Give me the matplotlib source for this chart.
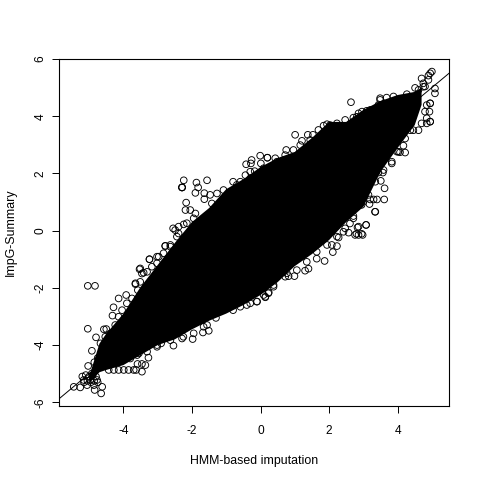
import numpy as np
import matplotlib
matplotlib.use("Agg")
import matplotlib.pyplot as plt

plt.rcParams["font.family"] = ["Liberation Sans", "DejaVu Sans"]
plt.rcParams["axes.unicode_minus"] = False

band_x = [-5.0, -4.7, -4.5, -4.0, -3.5, -3.0, -2.5, -2.0, -1.5, -1.0, -0.5, 0.0, 0.5, 1.0,
          1.5, 2.0, 2.5, 3.0, 3.5, 4.0, 4.5, 4.7]
band_upper = [-5.1, -3.95, -3.6, -2.9, -1.97, -1.2, -0.43, 0.3, 0.79, 1.45, 1.8, 2.22, 2.54, 2.75,
              3.24, 3.8, 3.8, 4.22, 4.53, 4.74, 4.85, 5.0]
band_lower = [-5.33, -4.95, -4.87, -4.7, -4.35, -4.0, -3.8, -3.45, -3.15, -2.9, -2.6, -2.25, -1.8, -1.24,
              -0.82, -0.33, 0.3, 0.83, 2.05, 2.89, 3.69, 4.4]

# points that stand clear of the core
out_x = [-5.04, -4.83, -5.04, -3.24, -3.02, -3.53, -3.65, -3.92, -4.14, -4.29, -4.32, -4.5, -4.8, -4.92, -5.03,
         -5.45, -5.26, -4.65, -4.84, -4.62, -5.16, -4.97, -4.77, -5.06, -4.86, -4.92, -4.77,
         -4.43, -4.28, -4.14, -3.99, -3.85, -3.7, -3.46, -3.63, -3.59, -3.46, -3.36, -3.27, -3.55,
         -3.02, -2.54, -2.9, -2.29, -1.98, -1.68, -1.51, -2.78, -2.49, -4.57,
         -2.29, -2.29, -2.29, -2.24, -1.87, -1.82, -1.9, -1.56, -1.64, -1.64, -1.47, -1.27, -2.17, -2.19, -2.05, -1.9,
         -2.55, -2.39, -2.24, -2.78, -2.63, -3.24, -2.97, -3.51, -3.41, -3.65, -3.51,
         -0.8, -0.59, -0.44, -0.3, -0.17, -0.42, -0.26, -0.28, -0.01, 0.01, 0.2, 0.2, 0.43, 0.75,
         0.14, 0.24, -0.11, -0.4, 0.38, 0.77,
         2.64, 1.01, 1.21, 1.38, 1.53, 1.84, 2.03, 2.71, 2.86, 2.96, 3.1, 3.44, 3.49, 3.68,
         4.51, 4.75, 4.8, 4.7, 4.9, 5.0, 4.9, 4.95, 5.09, 5.09, 4.95, 4.95, 4.85, 4.93, 4.8, 4.95, 4.95, 4.85,
         4.61, 4.46, 4.22, 4.07, 3.98, 4.17, 3.83, 3.44, 3.57, 3.51, 3.62, 3.61, 3.2, 3.3, 3.4, 3.35, 3.18, 3.0,
         3.08, 3.08, 2.86, 2.71, 2.42, 2.95, 2.8,
         1.87, 2.11, 2.23, 1.64, 1.4, 1.3, 0.99, 0.82, 0.23, 0.14, -0.1, 2.76, 2.86, 2.98, 3.34, 2.83, 2.57, 2.28, 2.08]
out_y = [-1.93, -1.93, -3.43, -1.0, -0.91, -1.35, -1.84, -2.25, -2.37, -2.68, -2.97, -3.44, -3.73, -4.2, -4.73,
         -5.46, -5.48, -5.69, -5.57, -5.46, -5.22, -5.22, -5.22, -5.4, -5.4, -4.99, -4.82,
         -4.87, -4.87, -4.87, -4.87, -4.87, -4.87, -4.93, -4.87, -4.66, -4.66, -4.7, -4.44, -4.29,
         -4.06, -4.02, -3.94, -3.77, -3.79, -3.56, -3.5, -0.54, 0.02, -3.45,
         1.51, 1.51, 1.51, 1.76, 1.68, 1.51, 1.32, 1.76, 1.31, 1.1, 1.25, 1.3, 0.98, 0.72, 0.72, 0.6,
         0.08, 0.14, 0.22, -0.53, -0.56, -1.0, -0.91, -1.32, -1.47, -1.87, -1.79,
         1.71, 1.71, 1.94, 2.06, 2.08, 2.32, 2.47, 2.35, 2.62, 2.35, 2.55, 2.55, 2.53, 2.82,
         -2.31, -2.16, -2.48, -2.6, -1.9, -1.49,
         4.49, 3.35, 3.14, 3.35, 3.35, 3.67, 3.69, 3.95, 4.1, 4.16, 4.19, 4.39, 4.63, 4.65,
         4.99, 5.15, 5.04, 5.32, 5.42, 5.56, 5.27, 5.5, 4.97, 4.8, 4.45, 4.45, 4.39, 4.16, 4.16, 3.81, 3.81, 3.75,
         3.51, 3.51, 2.73, 2.74, 2.76, 2.97, 2.35, 2.03, 2.03, 1.74, 1.48, 1.09, 1.09, 1.09, 1.09, 0.66, 0.93, 1.01,
         0.2, 0.2, 0.14, 0.51, -0.04, -0.11, -0.11,
         -1.06, -0.75, -0.54, -0.98, -1.33, -1.4, -1.59, -1.59, -2.19, -2.33, -2.48, -0.15, -0.15, -0.15, 0.66, 0.11,
         -0.07, -0.24, -0.5]

# points packed along the edge of the core
edge_x = [-4.67, -4.53, -4.38, -4.24, -4.14, -4.04, -3.9, -3.75, -3.58, -3.46, -3.31, -3.17, -3.02, -2.83, -2.63, -2.39,
          -2.44, -2.15, -1.95, -1.42, -1.08, -0.69, -0.3, 0.09, 0.48, 0.72,
          0.96, 1.16, 1.45, 1.69, 1.94, 2.23, 2.47, 2.81, 3.2, 3.49, 3.88, 4.27, 4.61, 4.75,
          4.85, 4.7, 4.37, 4.22, 4.02, 3.83, 3.59, 3.35, 3.15, 2.95, 2.71, 2.47,
          2.61, 2.23, 1.94, 1.64, 1.35, 1.06, 0.72, 0.38, 0.09, -0.3, -0.59, -0.8, -1.3,
          -1.56, -1.66, -1.95, -2.25, -2.63, -3.02, -3.31, -3.6, -3.8,
          -5.2, -5.1, -5.0, -4.9, -4.8, -5.15, -5.05, -4.95, -4.85, -4.75, -4.85, -4.75]
edge_y = [-3.94, -3.71, -3.59, -3.3, -3.01, -2.78, -2.54, -2.37, -2.08, -1.5, -1.44, -1.26, -1.14, -0.79, -0.5, -0.1,
          -0.21, 0.26, 0.43, 0.95, 1.42, 1.6, 1.83, 2.18, 2.41, 2.64,
          2.82, 2.99, 3.17, 3.52, 3.72, 3.75, 3.87, 3.98, 4.22, 4.57, 4.69, 4.77, 4.92, 5.03,
          3.93, 3.75, 3.51, 3.22, 2.76, 2.41, 2.12, 1.71, 1.25, 0.9, 0.43, 0.08,
          0.25, -0.21, -0.5, -0.74, -1.09, -1.38, -1.61, -1.96, -2.25, -2.54, -2.66, -2.78, -3.05,
          -3.3, -3.36, -3.59, -3.71, -3.83, -4.0, -4.23, -4.35, -4.47,
          -5.1, -5.05, -5.1, -5.05, -5.1, -5.3, -5.25, -5.3, -5.25, -5.3, -4.6, -4.45]

x_ticks = [-4, -2, 0, 2, 4]
y_ticks = [-6, -4, -2, 0, 2, 4, 6]

fig = plt.figure(figsize=(4.8, 4.8), dpi=100)
ax = fig.add_axes([59 / 480, 1 - 406 / 480, 390 / 480, 347 / 480])

ax.fill(band_x + band_x[::-1], band_upper + band_lower[::-1], color="k", lw=0)
ax.scatter(out_x, out_y, s=23, facecolors="none", edgecolors="k", linewidths=0.65, zorder=3)
ax.scatter(edge_x, edge_y, s=23, facecolors="none", edgecolors="k", linewidths=0.65, zorder=3)

xlim = (-5.88, 5.5)
ax.plot(xlim, xlim, "k", lw=0.7, zorder=2)
ax.set_xlim(xlim)
ax.set_ylim(-6.13, 6.0)

ax.set_xticks(x_ticks)
ax.set_yticks(y_ticks)
ax.tick_params(length=5, width=0.7, labelsize=8.6)
ax.tick_params(axis="x", pad=8.5)
ax.tick_params(axis="y", pad=4)
plt.setp(ax.get_yticklabels(), rotation=90, va="center")
for s in ax.spines.values():
    s.set_linewidth(0.8)

ax.set_xlabel("HMM-based imputation", fontsize=8.9, labelpad=13)
ax.set_ylabel("ImpG-Summary", fontsize=8.9, labelpad=12.5)

fig.savefig("out.png", dpi=100)
